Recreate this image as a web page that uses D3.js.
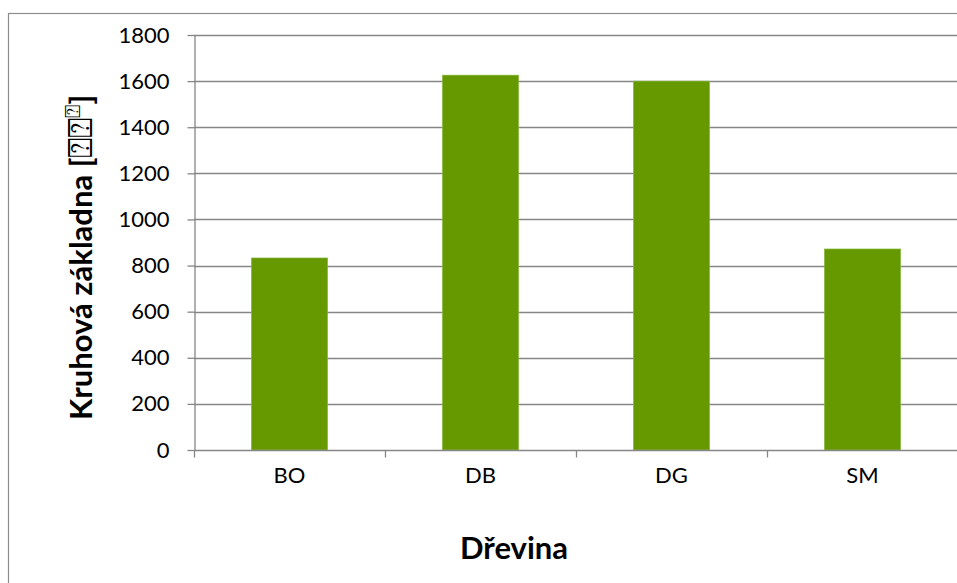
<!DOCTYPE html>
<html>
<head>
<meta charset="utf-8">
<script src="https://cdn.jsdelivr.net/npm/d3@7"></script>
<style>
  html, body { margin: 0; padding: 0; background: #fff; }
  svg { display: block; }
  text { font-family: Lato, "Open Sans", sans-serif; fill: #000; }
</style>
</head>
<body>
<svg id="chart" width="957" height="583"></svg>
<script>
// Basal area by tree species
const categories = ["BO", "DB", "DG", "SM"];
const values = [833, 1626, 1600, 872];
const yTicks = [0, 200, 400, 600, 800, 1000, 1200, 1400, 1600, 1800];
const xTitle = "Dřevina";
const yTitle = "Kruhová základna [";

const svg = d3.select("#chart");
const gray = "#868686";
const barColor = "#669900";
const tickFont = 22;
const titleFont = 31;

const margin = { left: 194, right: 958, top: 35, bottom: 450 };

// Chart frame (runs past the right and bottom edges)
svg.append("rect")
  .attr("x", 8.5).attr("y", 13.5)
  .attr("width", 1000).attr("height", 700)
  .attr("fill", "none").attr("stroke", "#8c8c8c").attr("stroke-width", 1.2);

const x = d3.scaleBand().domain(categories).range([margin.left, margin.right]).padding(0);
const y = d3.scaleLinear().domain([0, 1800]).range([margin.bottom, margin.top]);

// Horizontal gridlines
svg.append("g").selectAll("line").data(yTicks.filter(d => d > 0)).join("line")
  .attr("x1", margin.left).attr("x2", 957)
  .attr("y1", d => Math.round(y(d)) + 0.5).attr("y2", d => Math.round(y(d)) + 0.5)
  .attr("stroke", gray).attr("stroke-width", 1.3);

// Bars
const barW = x.bandwidth() * 0.4;
svg.append("g").selectAll("rect").data(categories).join("rect")
  .attr("x", d => x(d) + (x.bandwidth() - barW) / 2)
  .attr("y", (d, i) => y(values[i]))
  .attr("width", barW)
  .attr("height", (d, i) => y(0) - y(values[i]))
  .attr("fill", barColor)
  .attr("stroke", "#8fbf4a").attr("stroke-width", 0.6);

// Y axis
const yAxis = d3.axisLeft(y).tickValues(yTicks).tickFormat(d3.format("d"))
  .tickSize(7).tickPadding(18).tickSizeOuter(0);
const gy = svg.append("g").attr("transform", `translate(${margin.left + 0.5},0)`).call(yAxis);
gy.select(".domain").attr("stroke", gray).attr("stroke-width", 1.3);
gy.selectAll(".tick line").attr("stroke", gray).attr("stroke-width", 1.3);
gy.selectAll(".tick text").style("font-family", "Lato, 'Open Sans', sans-serif")
  .attr("font-size", tickFont).attr("fill", "#000");

// X axis: ticks at category boundaries
const gx = svg.append("g").attr("transform", `translate(0,${Math.round(y(0)) + 0.5})`);
gx.append("line").attr("x1", margin.left).attr("x2", 957).attr("y1", 0).attr("y2", 0)
  .attr("stroke", gray).attr("stroke-width", 1.3);
const bounds = categories.map(c => x(c)).concat([margin.right]);
gx.selectAll("line.tk").data(bounds).join("line").attr("class", "tk")
  .attr("x1", d => Math.round(d) + 0.5).attr("x2", d => Math.round(d) + 0.5)
  .attr("y1", 0).attr("y2", 7)
  .attr("stroke", gray).attr("stroke-width", 1.3);
gx.selectAll("text").data(categories).join("text")
  .attr("x", d => x(d) + x.bandwidth() / 2)
  .attr("y", 32)
  .attr("text-anchor", "middle")
  .attr("font-size", tickFont)
  .text(d => d);

// X axis title
svg.append("text")
  .attr("x", 514).attr("y", 559)
  .attr("text-anchor", "middle")
  .attr("font-size", titleFont).attr("font-weight", "bold")
  .text(xTitle);

// Y axis title
const yt = svg.append("text")
  .attr("transform", "translate(92,420) rotate(-90)")
  .attr("text-anchor", "start")
  .attr("font-size", titleFont).attr("font-weight", "bold");
yt.append("tspan").text(yTitle);
yt.append("tspan").attr("font-weight", "normal").attr("font-size", 34).text("⍰⍰");
yt.append("tspan").attr("font-weight", "normal").attr("font-size", 22).attr("dy", -12).text("⍰");
yt.append("tspan").attr("dy", 12).text("]");
</script>
</body>
</html>
